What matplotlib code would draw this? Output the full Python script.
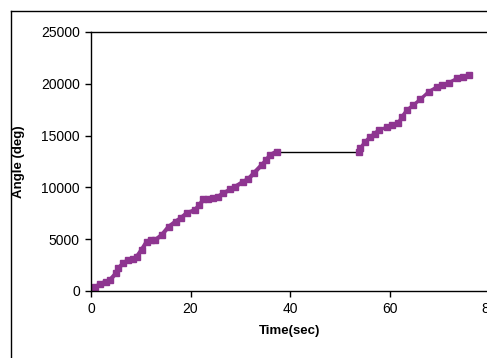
import matplotlib.pyplot as plt
from matplotlib.lines import Line2D

plt.rcParams['font.family'] = ['Liberation Sans', 'DejaVu Sans']

# first run (before the pause)
t1 = [0, 0.8, 1.8, 3.0, 3.8, 5.0, 5.5, 6.5, 7.5, 8.5, 9.2, 10.2, 11.2, 12.0,
      12.9, 14.2, 15.6, 17.0, 18.0, 19.2, 20.9, 21.8, 22.6, 23.5, 24.6, 25.5,
      26.6, 28.0, 29.0, 30.6, 31.6, 32.7, 34.3, 35.2, 36.0, 37.3]
a1 = [0, 350, 675, 900, 1060, 1700, 2190, 2700, 2990, 3100, 3310, 4000, 4760,
      4950, 4920, 5400, 6200, 6700, 7020, 7500, 7820, 8300, 8850, 8900, 8950,
      9100, 9430, 9800, 10070, 10550, 10800, 11360, 12160, 12600, 13130, 13450]

# second run (after the pause)
t2 = [53.8, 54.1, 55.1, 56.1, 57.0, 57.8, 59.5, 60.5, 61.8, 62.5, 63.5, 64.8,
      66.2, 67.9, 69.6, 70.5, 71.9, 73.6, 74.8, 75.9]
a2 = [13450, 13770, 14410, 14890, 15200, 15540, 15800, 16000, 16250, 16830,
      17470, 17950, 18500, 19240, 19720, 19900, 20100, 20530, 20650, 20850]

xticks = [0, 20, 40, 60, 80]
yticks = [0, 5000, 10000, 15000, 20000, 25000]

purple = '#8E3590'

fig = plt.figure(figsize=(4.87, 3.58), dpi=100)
ax = fig.add_axes([91 / 487, 1 - 291 / 358, 398 / 487, 259 / 358])

# flat part drawn as a thin black segment
ax.plot([t1[-1], t2[0]], [a1[-1], a2[0]], color='black', lw=1)
ax.plot(t1, a1, color=purple, lw=3, marker='s', ms=3.8,
        mec=purple, mfc=purple)
ax.plot(t2, a2, color=purple, lw=2.4, marker='s', ms=3.8,
        mec=purple, mfc=purple)

ax.set_xlim(0, 80)
ax.set_ylim(0, 25000)
ax.set_xticks(xticks)
ax.set_yticks(yticks)
ax.tick_params(direction='out', length=4, width=1, labelsize=10, pad=4,
               colors='black')
for s in ['left', 'bottom', 'top', 'right']:
    ax.spines[s].set_linewidth(1)

ax.set_xlabel('Time(sec)', fontsize=9.5, fontweight='bold')
ax.set_ylabel('Angle (deg)', fontsize=9.5, fontweight='bold')
ax.xaxis.set_label_coords(0.5, -0.13)
ax.yaxis.set_label_coords(-0.165, 0.5)

# outer chart border (cropped on right and bottom)
fig.add_artist(Line2D([11 / 487, 11 / 487], [0, 1 - 11 / 358], color='black',
                      lw=1, transform=fig.transFigure))
fig.add_artist(Line2D([11 / 487, 1], [1 - 11 / 358, 1 - 11 / 358],
                      color='black', lw=1, transform=fig.transFigure))

fig.savefig('out.png', dpi=100)
